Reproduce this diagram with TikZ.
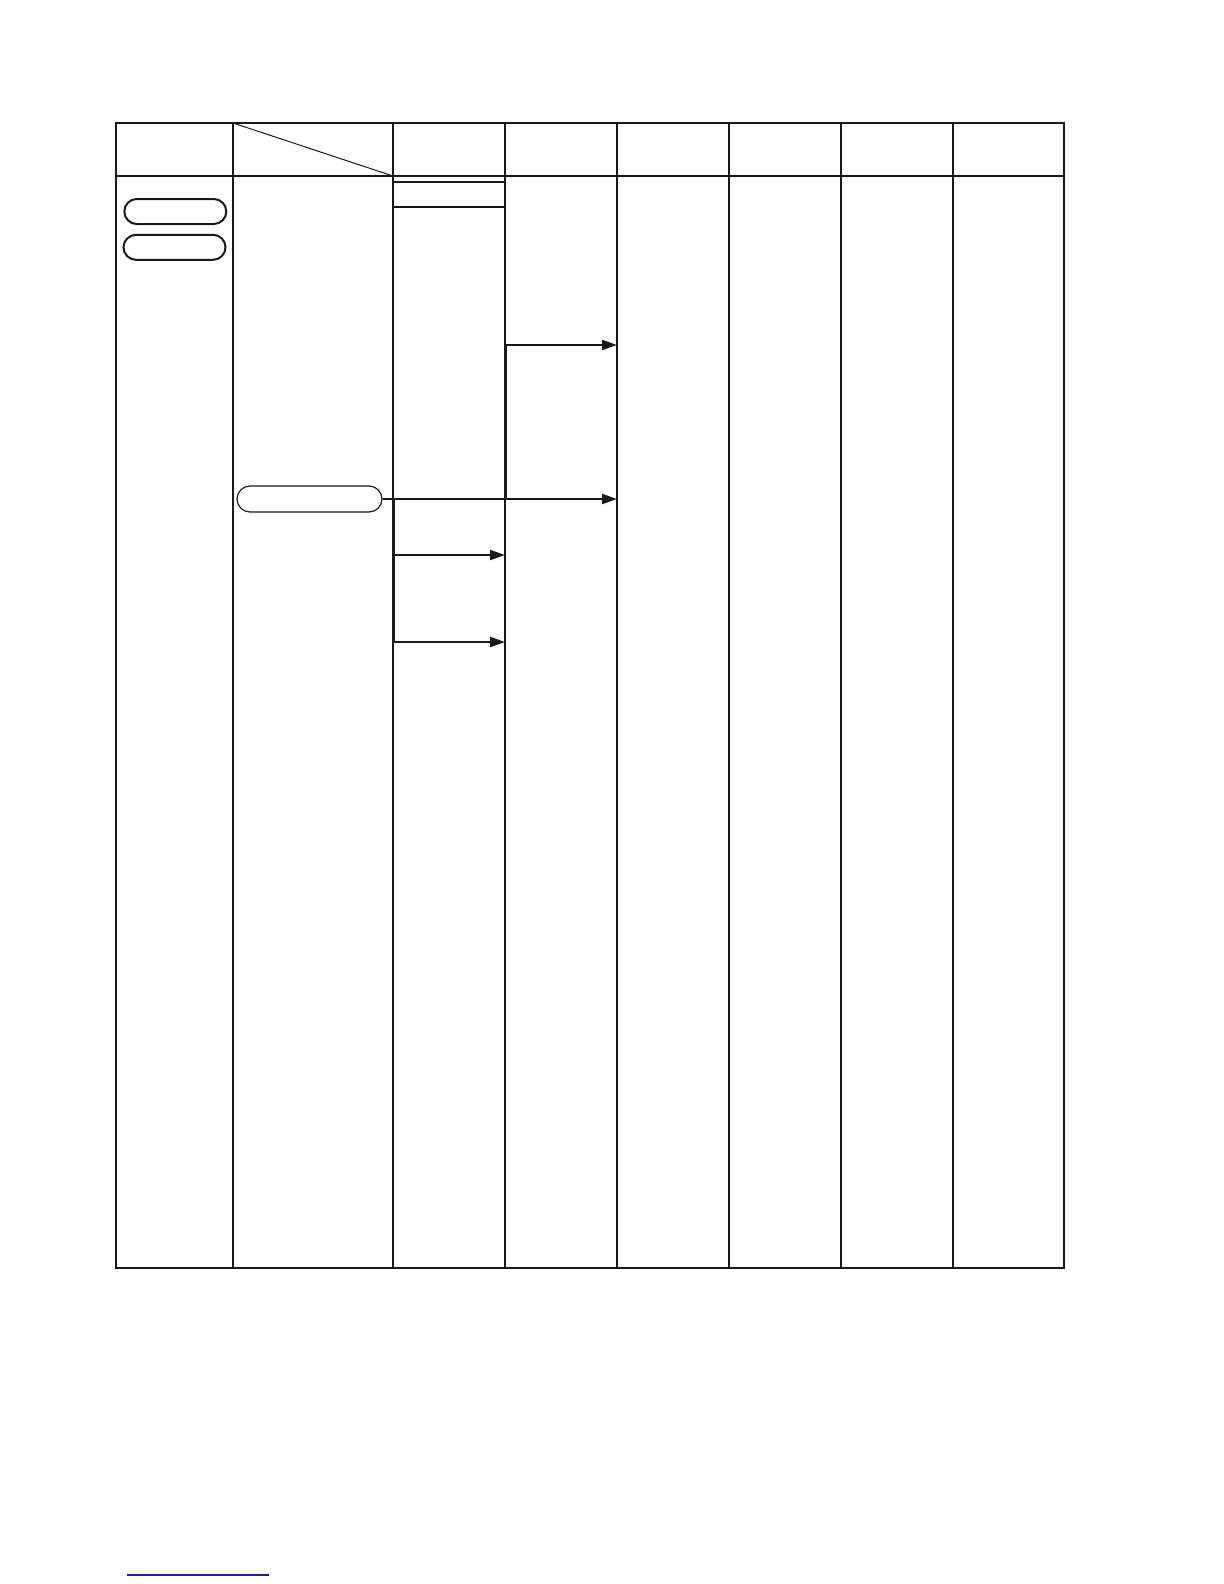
\documentclass[tikz,border=0pt]{standalone}
\usetikzlibrary{arrows.meta,shapes.misc}
\definecolor{linkblue}{RGB}{25,30,150}
\begin{document}
\begin{tikzpicture}[x=0.5pt,y=-0.5pt,
  grid/.style={line width=0.7pt,black!90},
  conn/.style={line width=1.1pt,black!90},
  arr/.style={conn,-{Triangle[length=7.5pt,width=5pt]}},
  pill/.style={draw,rounded rectangle,inner sep=0pt,line width=1pt,black!90}]
\useasboundingbox (0,0) rectangle (1224,1584);
% table
\draw[grid] (116,123) rectangle (1064,1268);
\draw[grid] (116,176) -- (1064,176);
\foreach \x in {233,393,505,617,729,841,953} \draw[grid] (\x,123) -- (\x,1268);
\draw[line width=0.5pt,black!90] (233,123) -- (393,176);
\draw[grid] (393,182) -- (505,182);
\draw[grid] (393,207) -- (505,207);
% pills
\node[pill,minimum width=51pt,minimum height=12.5pt] (p1) at (175.3,211.5) {};
\node[pill,minimum width=51pt,minimum height=12.5pt] (p2) at (174.5,247.3) {};
\node[pill,line width=0.6pt,minimum width=72.5pt,minimum height=13pt] (p3) at (309.5,499) {};
% connector coordinates
\coordinate (j1) at (394,499);
\coordinate (j2) at (506,499);
\coordinate (t1) at (617,499);
\coordinate (t2) at (617,345);
\coordinate (b1) at (394,555);
\coordinate (b2) at (394,642);
\coordinate (e1) at (505,555);
\coordinate (e2) at (505,642);
% connectors
\draw[arr] (p3.east) -- (t1);
\draw[conn] (j1) -- (b2);
\draw[arr] (b1) -- (e1);
\draw[arr] (b2) -- (e2);
\draw[arr] (j2) |- (t2);
% footer link line
\coordinate (f1) at (127,1575);
\coordinate (f2) at (269,1575);
\draw[linkblue,line width=0.6pt] (f1) -- (f2);
\end{tikzpicture}
\end{document}
